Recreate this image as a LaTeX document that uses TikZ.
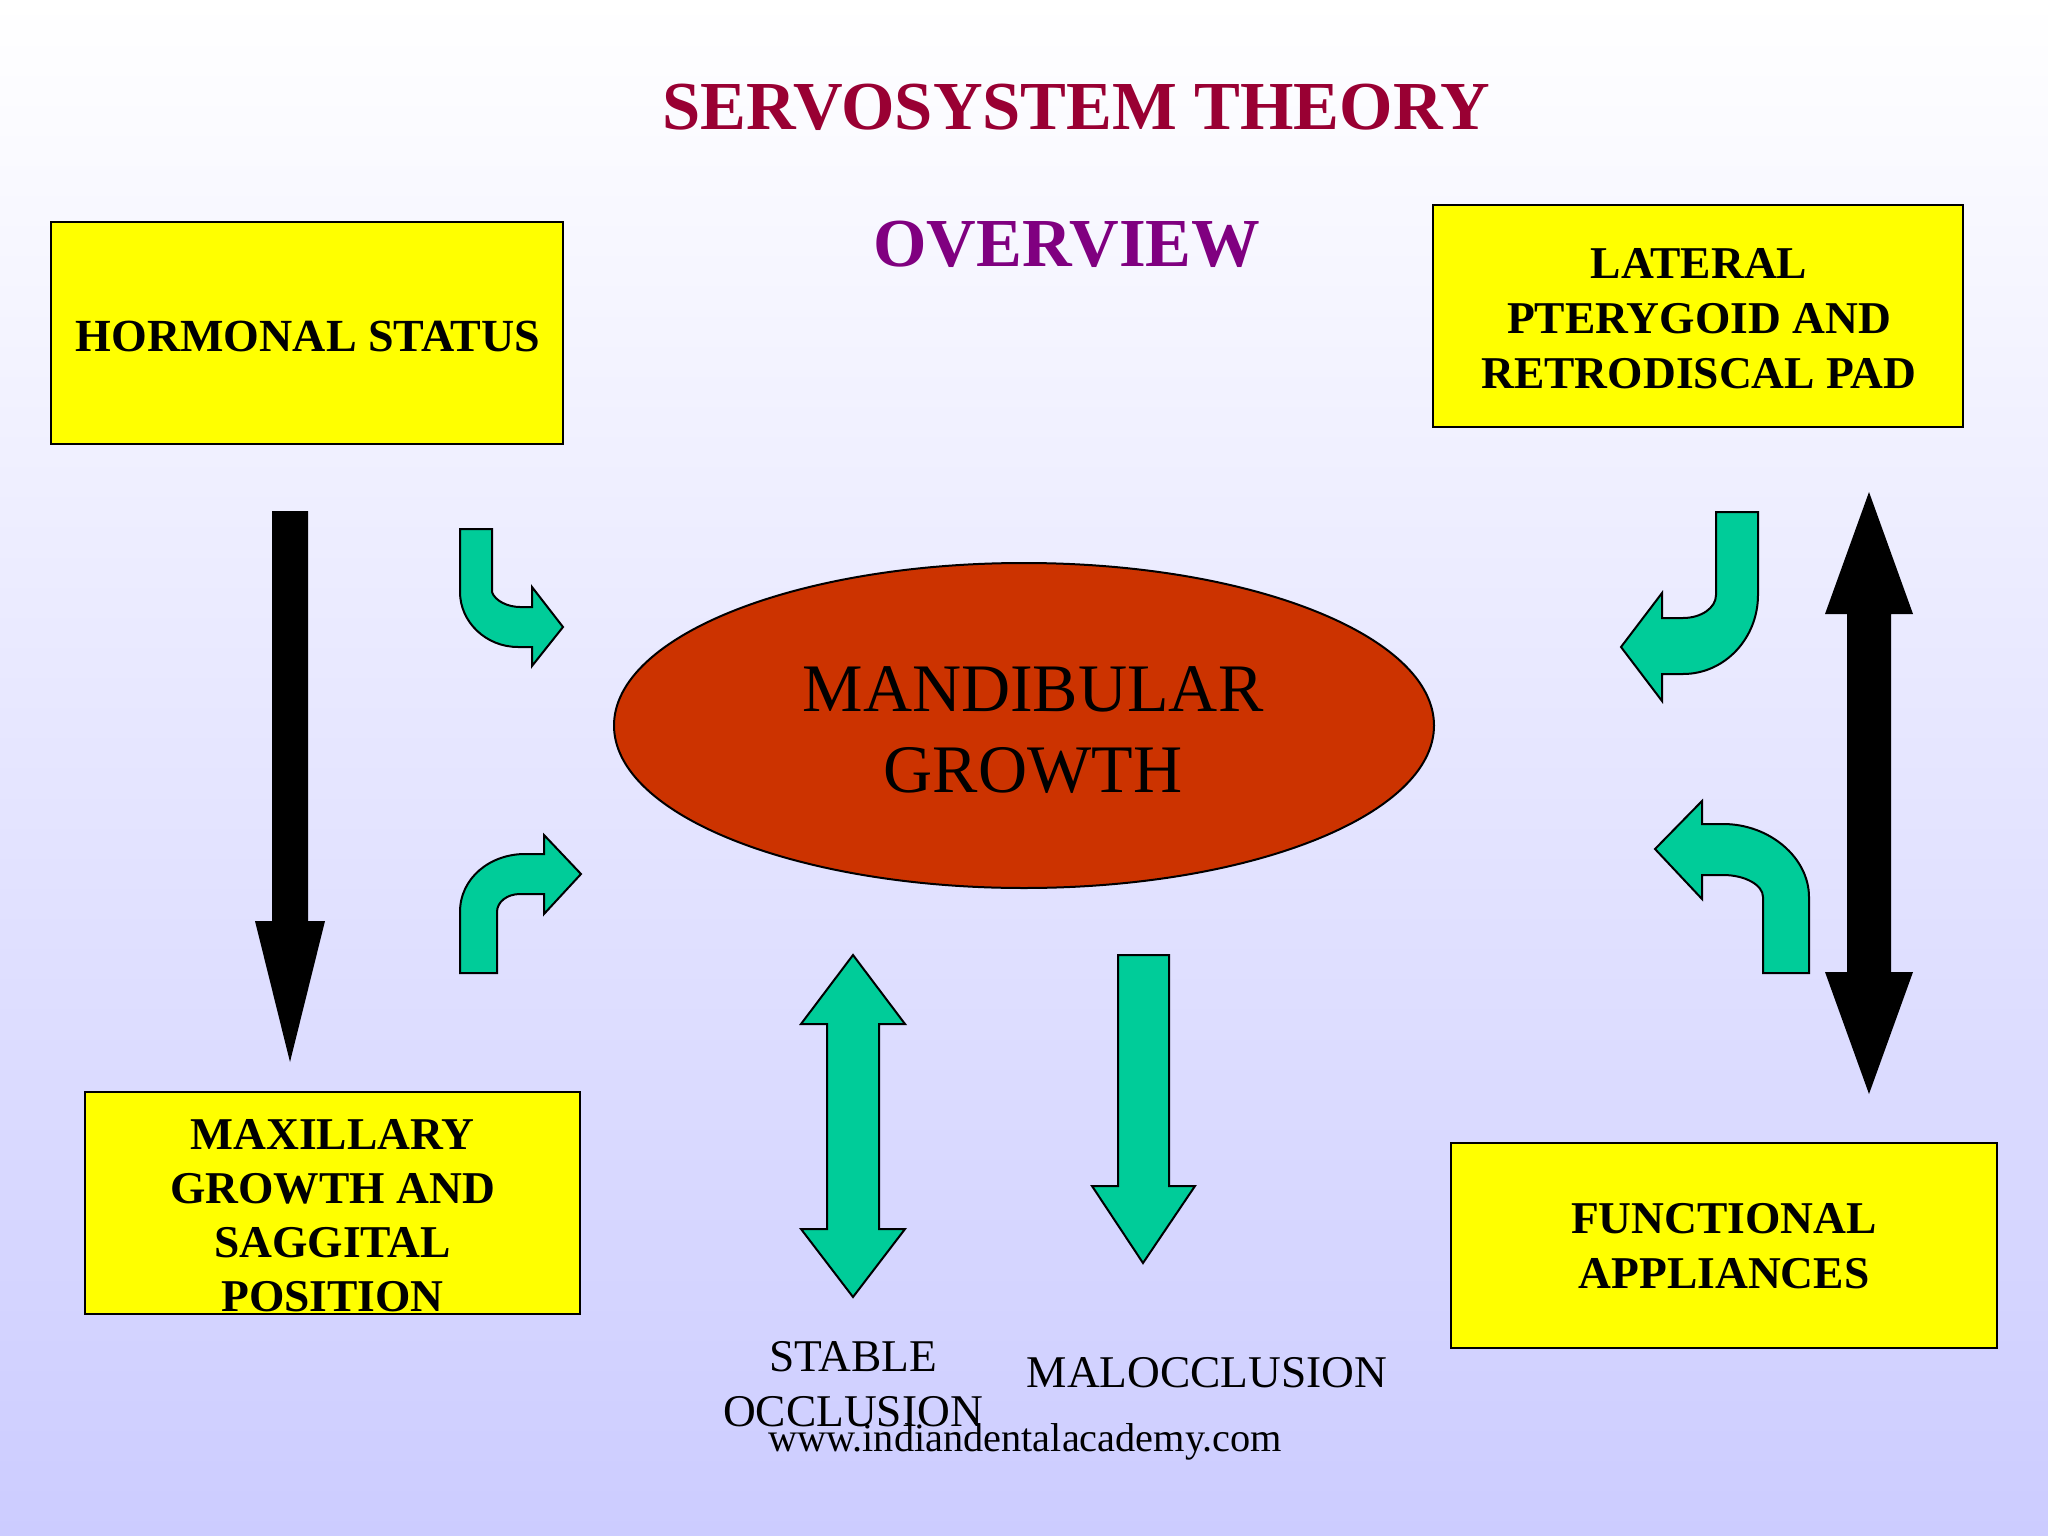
\documentclass[tikz,border=0pt]{standalone}
\usepackage{fontspec}
\setmainfont{Liberation Serif}
\usepackage{tikz}
\usetikzlibrary{positioning}
\usetikzlibrary{shapes.geometric}
\definecolor{pagelow}{RGB}{204,204,255}
\definecolor{titlered}{RGB}{153,0,51}
\definecolor{titlepurple}{RGB}{128,0,128}
\definecolor{arrowgreen}{RGB}{0,204,153}
\definecolor{growthred}{RGB}{204,51,0}
\definecolor{boxyellow}{RGB}{255,255,0}
\tikzset{
  boxnode/.style={draw=black, line width=2pt, fill=boxyellow, inner sep=0pt},
  boxtext/.style={align=center, inner sep=0pt, font=\fontsize{45.5}{54.8}\selectfont\bfseries},
  titletext/.style={anchor=base, font=\fontsize{68.7}{80}\selectfont\bfseries},
  plaintext/.style={align=center, inner sep=0pt, font=\fontsize{45.4}{55}\selectfont},
  greenarrow/.style={draw=black, line width=2pt, fill=arrowgreen, line join=miter},
  blackarrow/.style={fill=black}
}
\begin{document}
\begin{tikzpicture}[x=1pt, y=-1pt]
  \useasboundingbox (0,0) rectangle (2048,1536);
  \shade[top color=white, bottom color=pagelow] (0,0) rectangle (2048,1536);

  \node[titletext, text=titlered] (title) at (1076,130) {SERVOSYSTEM THEORY};
  \node[titletext, text=titlepurple] (overview) at (1067,266) {OVERVIEW};

  \node[boxnode, minimum width=512pt, minimum height=222pt] (hormone) at (307,333) {};
  \node[boxnode, minimum width=530pt, minimum height=222pt] (pterygoid) at (1698,316) {};
  \node[boxnode, minimum width=495pt, minimum height=222pt] (maxilla) at (332.5,1203) {};
  \node[boxnode, minimum width=546pt, minimum height=205pt] (appliance) at (1724,1245.5) {};
  \node[boxtext, font=\fontsize{46}{54.8}\selectfont\bfseries] (hormonetext) at ([xshift=1pt, yshift=-3pt]hormone.center) {HORMONAL STATUS};
  \node[boxtext] (pterygoidtext) at ([xshift=1pt, yshift=-2.5pt]pterygoid.center) {LATERAL\\PTERYGOID AND\\RETRODISCAL PAD};
  \node[boxtext, font=\fontsize{45.5}{54}\selectfont\bfseries] (maxillatext) at ([yshift=-12.5pt]maxilla.center) {MAXILLARY\\GROWTH AND\\SAGGITAL\\POSITION};
  \node[boxtext] (appliancetext) at ([yshift=-1pt]appliance.center) {FUNCTIONAL\\APPLIANCES};

  \node[draw=black, line width=2pt, fill=growthred, ellipse, minimum width=820pt, minimum height=325pt, inner sep=0pt] (growth) at (1024,725.5) {};
  \node[align=center, inner sep=0pt, font=\fontsize{68}{81}\selectfont] (growthtext) at ([xshift=9pt, yshift=-4.5pt]growth.center) {MANDIBULAR\\GROWTH};

  \draw[greenarrow] (460,529) -- (492,529) -- (492,592) .. controls (495,601) and (508,607) .. (520,607) -- (532,607) -- (532,587) -- (563,627) -- (532,666) -- (532,647) -- (518,647) .. controls (486,647) and (460,622) .. (460,592) -- cycle;
  \draw[greenarrow] (460,973) -- (497,973) -- (497,912) .. controls (497,902) and (507,894) .. (520,894) -- (544,894) -- (544,914) -- (581,874) -- (544,835) -- (544,854) -- (525,854) .. controls (490,854) and (460,878) .. (460,912) -- cycle;
  \draw[greenarrow] (1716,512) -- (1758,512) -- (1758,595) .. controls (1758,638) and (1725,674) .. (1683,674) -- (1662,674) -- (1662,701) -- (1621,647) -- (1662,593) -- (1662,618) -- (1683,618) .. controls (1701,618) and (1716,608) .. (1716,595) -- cycle;
  \draw[greenarrow] (1809,973) -- (1763,973) -- (1763,897) .. controls (1763,885) and (1745,875) .. (1723,875) -- (1702,875) -- (1702,899) -- (1655,849) -- (1702,801) -- (1702,824) -- (1723,824) .. controls (1770,824) and (1809,858) .. (1809,897) -- cycle;

  \draw[greenarrow] (853,955) -- (905,1024) -- (879,1024) -- (879,1229) -- (905,1229) -- (853,1297) -- (801,1229) -- (827,1229) -- (827,1024) -- (801,1024) -- cycle;
  \draw[greenarrow] (1118,955) -- (1169,955) -- (1169,1186) -- (1195,1186) -- (1143,1263) -- (1092,1186) -- (1118,1186) -- cycle;

  \fill[blackarrow] (272,511) -- (308,511) -- (308,921) -- (325,921) -- (290,1062) -- (255,921) -- (272,921) -- cycle;
  \fill[blackarrow] (1869,492) -- (1913,614) -- (1891,614) -- (1891,972) -- (1913,972) -- (1869,1094) -- (1825,972) -- (1847,972) -- (1847,614) -- (1825,614) -- cycle;

  \node[plaintext] (stable) at (853,1384.5) {STABLE\\OCCLUSION};
  \node[plaintext] (malocclusion) at (1207,1373) {MALOCCLUSION};
  \node[inner sep=0pt, font=\fontsize{40.3}{48}\selectfont] (website) at (1025,1442) {www.indiandentalacademy.com};
\end{tikzpicture}
\end{document}
